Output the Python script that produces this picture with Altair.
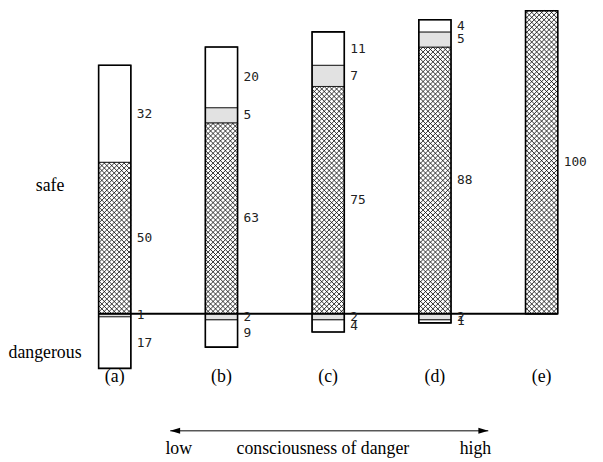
import altair as alt
import numpy as np
import pandas as pd

# ---------------- data ----------------
categories = ["(a)", "(b)", "(c)", "(d)", "(e)"]
safe_plain = [32, 20, 11, 4, 0]       # white part at the top (safe)
safe_dotted = [0, 5, 7, 5, 0]         # stippled part (safe)
safe_hatched = [50, 63, 75, 88, 100]  # cross-hatched part (safe)
danger_dotted = [1, 2, 2, 2, 0]       # stippled part below the line (dangerous)
danger_plain = [17, 9, 4, 1, 0]       # white part below the line (dangerous)

side_labels = ["safe", "dangerous"]
scale_words = ["low", "consciousness of danger", "high"]

# ---------------- layout / style constants ----------------
W, H = 594, 454
X_DOMAIN = [0, 5.5]
Y_DOMAIN = [-48, 100]
SX = W / (X_DOMAIN[1] - X_DOMAIN[0])   # px per x unit
SY = H / (Y_DOMAIN[1] - Y_DOMAIN[0])   # px per y unit
HALF = 16.3 / SX                       # half bar width in x units
HATCH = 5.0                            # hatch spacing in px

xs = alt.Scale(domain=X_DOMAIN, nice=False, zero=False)
ys = alt.Scale(domain=Y_DOMAIN, nice=False, zero=False)

# ---------------- build segment table ----------------
rows = []
for i, c in enumerate(categories):
    pos = i + 1
    base = 0
    for kind, v in [("hatched", safe_hatched[i]), ("dotted", safe_dotted[i]), ("plain", safe_plain[i])]:
        if v > 0:
            rows.append(dict(cat=c, pos=pos, kind=kind, y0=base, y1=base + v, value=str(v)))
            base += v
    base = 0
    for kind, v in [("dotted", danger_dotted[i]), ("plain", danger_plain[i])]:
        if v > 0:
            rows.append(dict(cat=c, pos=pos, kind=kind, y0=base - v, y1=base, value=str(v)))
            base -= v
segs = pd.DataFrame(rows)
segs["xl"] = segs["pos"] - HALF
segs["xr"] = segs["pos"] + HALF
segs["ym"] = (segs["y0"] + segs["y1"]) / 2

bars = segs.groupby(["cat", "pos"], as_index=False).agg(ylo=("y0", "min"), yhi=("y1", "max"))
bars["xl"] = bars["pos"] - HALF
bars["xr"] = bars["pos"] + HALF

# cross-hatch texture lines inside the hatched segments
hl = []
for r in segs[segs["kind"] == "hatched"].itertuples():
    x0, x1 = r.xl * SX, r.xr * SX
    y0, y1 = r.y0 * SY, r.y1 * SY
    for cc in np.arange(np.floor((x0 - y1) / HATCH) * HATCH, x1 - y0, HATCH):
        xa, xb = max(x0, y0 + cc), min(x1, y1 + cc)
        if xb > xa:
            hl.append(dict(x=xa / SX, x2=xb / SX, y=(xa - cc) / SY, y2=(xb - cc) / SY))
    for cc in np.arange(np.floor((x0 + y0) / HATCH) * HATCH, x1 + y1, HATCH):
        xa, xb = max(x0, cc - y1), min(x1, cc - y0)
        if xb > xa:
            hl.append(dict(x=xa / SX, x2=xb / SX, y=(cc - xa) / SY, y2=(cc - xb) / SY))
hatch = pd.DataFrame(hl)

# annotation tables
cat_df = pd.DataFrame({"pos": [i + 1 for i in range(len(categories))], "label": categories, "y": -21})
side_df = pd.DataFrame({"label": side_labels, "x": [0.394, 0.347], "y": [42, -13]})
words_df = pd.DataFrame({"label": scale_words, "x": [1.60, 2.95, 4.38], "y": [-44.6] * 3})
arrow_df = pd.DataFrame({"x": [1.52], "x2": [4.50], "y": [-38.6]})
heads_df = pd.DataFrame({"x": [1.52, 4.50], "y": [-38.6, -38.6], "side": ["l", "r"]})
base_df = pd.DataFrame({"x": [1 - HALF], "x2": [len(categories) + HALF], "y": [0]})

serif = "Liberation Serif"
mono = "DejaVu Sans Mono"

fills = alt.Chart(segs).mark_rect(stroke="black", strokeWidth=0.8).encode(
    x=alt.X("xl:Q", scale=xs, axis=None),
    x2="xr:Q",
    y=alt.Y("y0:Q", scale=ys, axis=None),
    y2="y1:Q",
    fill=alt.Fill("kind:N", scale=alt.Scale(domain=["hatched", "dotted", "plain"],
                                            range=["white", "#e2e2e2", "white"]), legend=None),
)

hatch_lines = alt.Chart(hatch).mark_rule(strokeWidth=0.85, color="#111").encode(
    x=alt.X("x:Q", scale=xs, axis=None), x2="x2:Q",
    y=alt.Y("y:Q", scale=ys, axis=None), y2="y2:Q",
)

outline = alt.Chart(bars).mark_rect(fillOpacity=0, stroke="black", strokeWidth=1.6).encode(
    x=alt.X("xl:Q", scale=xs, axis=None), x2="xr:Q",
    y=alt.Y("ylo:Q", scale=ys, axis=None), y2="yhi:Q",
)

baseline = alt.Chart(base_df).mark_rule(strokeWidth=2, color="black").encode(
    x=alt.X("x:Q", scale=xs, axis=None), x2="x2:Q",
    y=alt.Y("y:Q", scale=ys, axis=None),
)

values = alt.Chart(segs).mark_text(align="left", baseline="middle", dx=6,
                                   font=mono, fontSize=13, color="#222").encode(
    x=alt.X("xr:Q", scale=xs, axis=None),
    y=alt.Y("ym:Q", scale=ys, axis=None),
    text="value:N",
)

cats = alt.Chart(cat_df).mark_text(baseline="middle", font=serif, fontSize=18, color="black").encode(
    x=alt.X("pos:Q", scale=xs, axis=None),
    y=alt.Y("y:Q", scale=ys, axis=None),
    text="label:N",
)

sides = alt.Chart(side_df).mark_text(baseline="middle", font=serif, fontSize=18, color="black").encode(
    x=alt.X("x:Q", scale=xs, axis=None),
    y=alt.Y("y:Q", scale=ys, axis=None),
    text="label:N",
)

words = alt.Chart(words_df).mark_text(baseline="middle", font=serif, fontSize=18, color="black").encode(
    x=alt.X("x:Q", scale=xs, axis=None),
    y=alt.Y("y:Q", scale=ys, axis=None),
    text="label:N",
)

arrow = alt.Chart(arrow_df).mark_rule(strokeWidth=1, color="black").encode(
    x=alt.X("x:Q", scale=xs, axis=None), x2="x2:Q",
    y=alt.Y("y:Q", scale=ys, axis=None),
)

heads = alt.Chart(heads_df).mark_point(filled=True, size=100, opacity=1, color="black").encode(
    x=alt.X("x:Q", scale=xs, axis=None),
    y=alt.Y("y:Q", scale=ys, axis=None),
    shape=alt.Shape("side:N", scale=alt.Scale(domain=["l", "r"],
                    range=["M 0 0 L 2 -0.6 L 2 0.6 Z", "M 0 0 L -2 -0.6 L -2 0.6 Z"]), legend=None),
)

chart = alt.layer(fills, hatch_lines, outline, baseline, values, cats, sides, words, arrow, heads).properties(
    width=W, height=H,
    autosize=alt.AutoSizeParams(type="none"),
    padding=0,
).configure_view(stroke=None)

chart.save("out.html", embed_options={"renderer": "svg", "actions": False})
